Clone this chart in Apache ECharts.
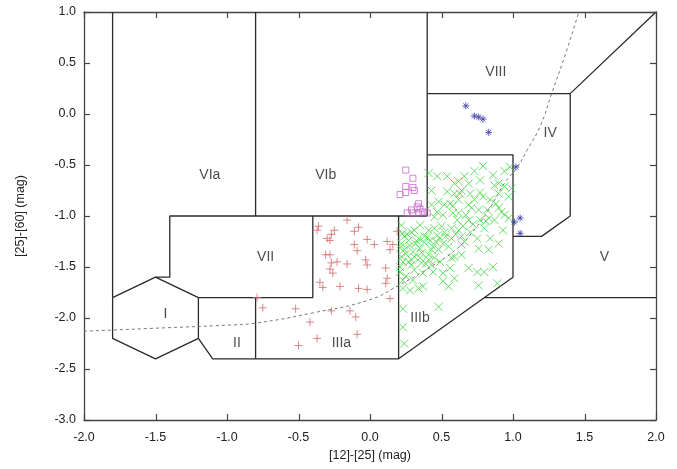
<!DOCTYPE html>
<html><head><meta charset="utf-8">
<script src="https://cdn.jsdelivr.net/npm/echarts@6/dist/echarts.min.js"></script>
<style>html,body{margin:0;padding:0;background:#fff}#c{width:677px;height:469px}</style>
</head><body><div id="c"></div>
<script>
// Axis definitions
const xRange = [-2.0, 2.0];
const yRange = [-3.0, 1.0];
const tickStep = 0.5;
const xTickValues = [-2.0, -1.5, -1.0, -0.5, 0.0, 0.5, 1.0, 1.5, 2.0];
const yTickValues = [-3.0, -2.5, -2.0, -1.5, -1.0, -0.5, 0.0, 0.5, 1.0];
const xTitle = '[12]-[25] (mag)';
const yTitle = '[25]-[60] (mag)';

// Region boundary polylines (in [12]-[25], [25]-[60] colour units)
const boundaries = [
  [[-1.8, 1.0], [-1.8, -1.8]],
  [[-1.8, -1.8], [-1.5, -1.6], [-1.2, -1.8], [-1.2, -2.2], [-1.5, -2.4], [-1.8, -2.2], [-1.8, -1.8]],
  [[-1.5, -1.6], [-1.4, -1.6], [-1.4, -1.0], [0.4, -1.0]],
  [[-0.8, 1.0], [-0.8, -1.0]],
  [[-0.4, -1.0], [-0.4, -1.8], [-1.2, -1.8]],
  [[-0.8, -1.8], [-0.8, -2.4]],
  [[-1.2, -2.2], [-1.1, -2.4], [0.2, -2.4], [1.0, -1.6], [1.0, -0.4], [0.4, -0.4]],
  [[0.2, -1.0], [0.2, -2.4]],
  [[0.4, 1.0], [0.4, -1.0]],
  [[0.8, -1.8], [2.0, -1.8]],
  [[1.0, -1.2], [1.2, -1.2], [1.4, -1.0], [1.4, 0.2], [2.0, 1.0]],
  [[0.4, 0.2], [1.4, 0.2]]
];

// Region names and label positions
const regionNames = ['VIa', 'VIb', 'VIII', 'IV', 'VII', 'I', 'II', 'IIIa', 'IIIb', 'V'];
const regionX = [-1.12, -0.31, 0.88, 1.26, -0.73, -1.43, -0.93, -0.20, 0.35, 1.64];
const regionY = [-0.60, -0.60, 0.41, -0.19, -1.40, -1.96, -2.25, -2.25, -2.00, -1.40];

// Dashed reference curve
const curveX = [-2.0, -1.5, -1.0, -0.8, -0.4, 0.0, 0.2, 0.4, 0.6, 0.71, 0.83, 0.94, 1.03, 1.10, 1.19, 1.27, 1.37, 1.46];
const curveY = [-2.13, -2.10, -2.07, -2.05, -1.95, -1.82, -1.68, -1.52, -1.33, -1.17, -0.94, -0.68, -0.52, -0.35, -0.12, 0.20, 0.60, 1.0];

// Red plus sources
const redX = [-0.36,-0.37,-0.16,-0.08,-0.11,-0.25,-0.27,-0.30,-0.28,-0.02,0.03,0.12,0.16,0.19,0.14,-0.11,-0.09,-0.31,-0.28,-0.23,-0.27,-0.16,-0.03,-0.02,-0.28,-0.26,0.11,0.12,0.11,-0.35,-0.33,-0.21,-0.08,-0.02,0.14,-0.79,-0.75,-0.52,-0.27,-0.14,-0.10,-0.42,-0.09,-0.37,-0.50];
const redY = [-1.10,-1.14,-1.04,-1.11,-1.15,-1.14,-1.18,-1.22,-1.24,-1.23,-1.28,-1.25,-1.28,-1.15,-1.33,-1.28,-1.34,-1.38,-1.38,-1.45,-1.46,-1.47,-1.43,-1.48,-1.52,-1.56,-1.51,-1.61,-1.66,-1.65,-1.70,-1.69,-1.71,-1.72,-1.81,-1.80,-1.90,-1.91,-1.93,-1.93,-1.99,-2.04,-2.16,-2.20,-2.27];

// Green cross sources
const greenX = [0.41,0.47,0.54,0.59,0.43,0.54,0.59,0.48,0.43,0.56,0.62,0.45,0.51,0.58,0.61,0.23,0.29,0.41,0.45,0.50,0.38,0.33,0.27,0.22,0.24,0.35,0.44,0.51,0.57,0.55,0.48,0.41,0.31,0.22,
  0.79,0.73,0.86,0.94,0.98,0.66,0.62,0.69,0.77,0.90,0.87,0.94,0.99,0.63,0.70,0.77,0.79,0.90,0.97,0.69,0.71,0.76,0.82,0.90,0.92,0.62,0.69,0.77,0.83,0.87,0.94,0.97,0.62,0.65,0.64,0.75,0.90,0.76,0.83,0.59,0.64,
  0.23,0.29,0.36,0.43,0.49,0.57,0.69,0.75,0.80,0.86,0.56,0.51,0.44,0.37,0.23,0.30,0.59,0.51,0.55,0.76,0.89,0.23,0.28,0.34,0.37,0.48,0.23,0.23,0.24,
  0.24,0.28,0.34,0.38,0.30,0.42,0.47,0.52,0.57,0.49,0.35,0.27,0.21,0.31,0.41,0.45,0.64,0.70,0.80,0.84,0.93,0.67,0.73,0.84,0.52,0.64,0.35,0.31,0.22,
  0.26,0.32,0.40,0.46,0.53,0.25,0.36,0.43,0.21,0.29,0.39,0.60,0.66,0.72,0.81,0.88,0.58,0.47,0.21,0.25];
const greenY = [-0.58,-0.61,-0.61,-0.68,-0.75,-0.76,-0.78,-0.86,-0.89,-0.88,-0.84,-1.01,-0.99,-0.97,-1.04,-1.17,-1.16,-1.14,-1.12,-1.10,-1.20,-1.25,-1.24,-1.27,-1.33,-1.32,-1.30,-1.27,-1.22,-1.30,-1.33,-1.38,-1.40,-1.40,
  -0.51,-0.56,-0.60,-0.56,-0.52,-0.61,-0.66,-0.68,-0.65,-0.68,-0.70,-0.71,-0.73,-0.78,-0.78,-0.77,-0.81,-0.78,-0.81,-0.89,-0.92,-0.94,-0.94,-0.92,-0.96,-0.97,-1.04,-1.04,-1.02,-1.04,-0.99,-1.02,-1.14,-1.10,-1.20,-1.22,-1.27,-1.32,-1.33,-1.40,-1.38,
  -1.45,-1.48,-1.46,-1.48,-1.45,-1.41,-1.51,-1.55,-1.55,-1.50,-1.51,-1.56,-1.55,-1.56,-1.63,-1.63,-1.61,-1.64,-1.69,-1.68,-1.66,-1.71,-1.73,-1.71,-1.69,-1.89,-1.91,-2.09,-2.25,
  -1.20,-1.29,-1.22,-1.26,-1.35,-1.24,-1.19,-1.16,-1.12,-1.22,-1.41,-1.45,-1.55,-1.53,-1.43,-1.41,-1.28,-1.16,-1.12,-1.22,-1.14,-0.99,-0.84,-0.84,-0.89,-0.75,-1.09,-1.14,-1.09,
  -1.18,-1.27,-1.21,-1.25,-1.20,-1.37,-1.36,-1.33,-1.31,-1.43,-1.47,-1.18,-1.25,-1.08,-1.05,-0.88,-0.90,-0.96,-1.50,-1.59];

// Magenta square sources
const magentaX = [0.25,0.25,0.30,0.31,0.25,0.21,0.34,0.33,0.35,0.29,0.26,0.30,0.34,0.37,0.40,0.30];
const magentaY = [-0.55,-0.71,-0.72,-0.75,-0.77,-0.79,-0.88,-0.91,-0.93,-0.94,-0.97,-0.97,-0.97,-0.96,-0.97,-0.63];

// Blue asterisk sources
const blueX = [0.67,0.73,0.76,0.79,0.83,1.02,1.01,1.05,1.05];
const blueY = [0.08,-0.02,-0.03,-0.05,-0.18,-0.52,-1.06,-1.02,-1.17];

const zip = (a, b) => a.map((v, i) => [v, b[i]]);
const FONT = '"Liberation Sans", Arial, sans-serif';
const frameColor = '#444';

const series = [];
boundaries.forEach(pl => series.push({
  type: 'line', data: pl, symbol: 'none', silent: true, animation: false,
  lineStyle: { color: '#2a2a2a', width: 1.3 }, z: 2
}));
series.push({
  type: 'line', data: zip(curveX, curveY), smooth: true, symbol: 'none', animation: false,
  lineStyle: { color: '#777', width: 1, type: [3, 3] }, z: 3
});
const PLUS = 'path://M0,5L10,5M5,0L5,10';
const CROSS = 'path://M0,0L10,10M10,0L0,10';
const STAR = 'path://M0,5L10,5M5,0L5,10M1.5,1.5L8.5,8.5M8.5,1.5L1.5,8.5';
series.push({ type: 'scatter', data: zip(redX, redY), symbol: PLUS, symbolSize: 8, animation: false,
  itemStyle: { color: 'none', borderColor: '#d46a6a', borderWidth: 1 }, z: 4 });
series.push({ type: 'scatter', data: zip(greenX, greenY), symbol: CROSS, symbolSize: 8, animation: false,
  itemStyle: { color: 'none', borderColor: '#44d444', borderWidth: 1 }, z: 4 });
series.push({ type: 'scatter', data: zip(magentaX, magentaY), symbol: 'rect', symbolSize: 6, animation: false,
  itemStyle: { color: 'none', borderColor: '#c86ac8', borderWidth: 1 }, z: 4 });
series.push({ type: 'scatter', data: zip(blueX, blueY), symbol: STAR, symbolSize: 7, animation: false,
  itemStyle: { color: 'none', borderColor: '#3a3aa6', borderWidth: 1 }, z: 5 });
series.push({ type: 'scatter', data: regionNames.map((n, i) => ({ value: [regionX[i], regionY[i]], name: n })),
  symbolSize: 0, animation: false, silent: true, z: 6,
  label: { show: true, position: 'inside', formatter: p => p.name, color: '#1a1a1a', fontSize: 14, fontFamily: FONT } });

function makeAxis(range, position, extra) {
  const ax = {
    type: 'value', min: range[0], max: range[1], interval: tickStep, position: position,
    splitLine: { show: false },
    axisLine: { show: true, onZero: false, lineStyle: { color: frameColor, width: 1.3 } },
    axisTick: { show: false },
    axisLabel: { show: false }
  };
  return Object.assign(ax, extra || {});
}
const chart = echarts.init(document.getElementById('c'), null, { renderer: 'canvas' });
chart.setOption({
  backgroundColor: '#fff',
  animation: false,
  grid: { left: 84, right: 21, top: 12, bottom: 49 },
  xAxis: [
    makeAxis(xRange, 'bottom', {
      name: xTitle, nameLocation: 'middle', nameGap: 29,
      nameTextStyle: { color: '#222', fontSize: 12.5, fontFamily: FONT },
      axisLabel: { show: true, color: '#222', fontSize: 12.5, fontFamily: FONT, margin: 11, formatter: v => v.toFixed(1) } }),
    makeAxis(xRange, 'top')
  ],
  yAxis: [
    makeAxis(yRange, 'left', {
      name: yTitle, nameLocation: 'middle', nameGap: 57, nameRotate: 90,
      nameTextStyle: { color: '#222', fontSize: 12.5, fontFamily: FONT },
      axisLabel: { show: true, color: '#222', fontSize: 12.5, fontFamily: FONT, margin: 8, formatter: v => v.toFixed(1) } }),
    makeAxis(yRange, 'right')
  ],
  series: series
});

// Inward ticks on all four sides, placed through the axes' own scales
const tickLen = 6;
const gLeft = chart.convertToPixel({ xAxisIndex: 0 }, xRange[0]);
const gRight = chart.convertToPixel({ xAxisIndex: 0 }, xRange[1]);
const gTop = chart.convertToPixel({ yAxisIndex: 0 }, yRange[1]);
const gBottom = chart.convertToPixel({ yAxisIndex: 0 }, yRange[0]);
const tickStyle = { stroke: frameColor, lineWidth: 1.2 };
const ticks = [];
xTickValues.forEach(v => {
  const px = Math.round(chart.convertToPixel({ xAxisIndex: 0 }, v)) + 0.5;
  ticks.push({ type: 'line', silent: true, z: 10, shape: { x1: px, y1: gBottom, x2: px, y2: gBottom - tickLen }, style: tickStyle });
  ticks.push({ type: 'line', silent: true, z: 10, shape: { x1: px, y1: gTop, x2: px, y2: gTop + tickLen }, style: tickStyle });
});
yTickValues.forEach(v => {
  const py = Math.round(chart.convertToPixel({ yAxisIndex: 0 }, v)) + 0.5;
  ticks.push({ type: 'line', silent: true, z: 10, shape: { x1: gLeft, y1: py, x2: gLeft + tickLen, y2: py }, style: tickStyle });
  ticks.push({ type: 'line', silent: true, z: 10, shape: { x1: gRight, y1: py, x2: gRight - tickLen, y2: py }, style: tickStyle });
});
chart.setOption({ graphic: ticks });
</script></body></html>
